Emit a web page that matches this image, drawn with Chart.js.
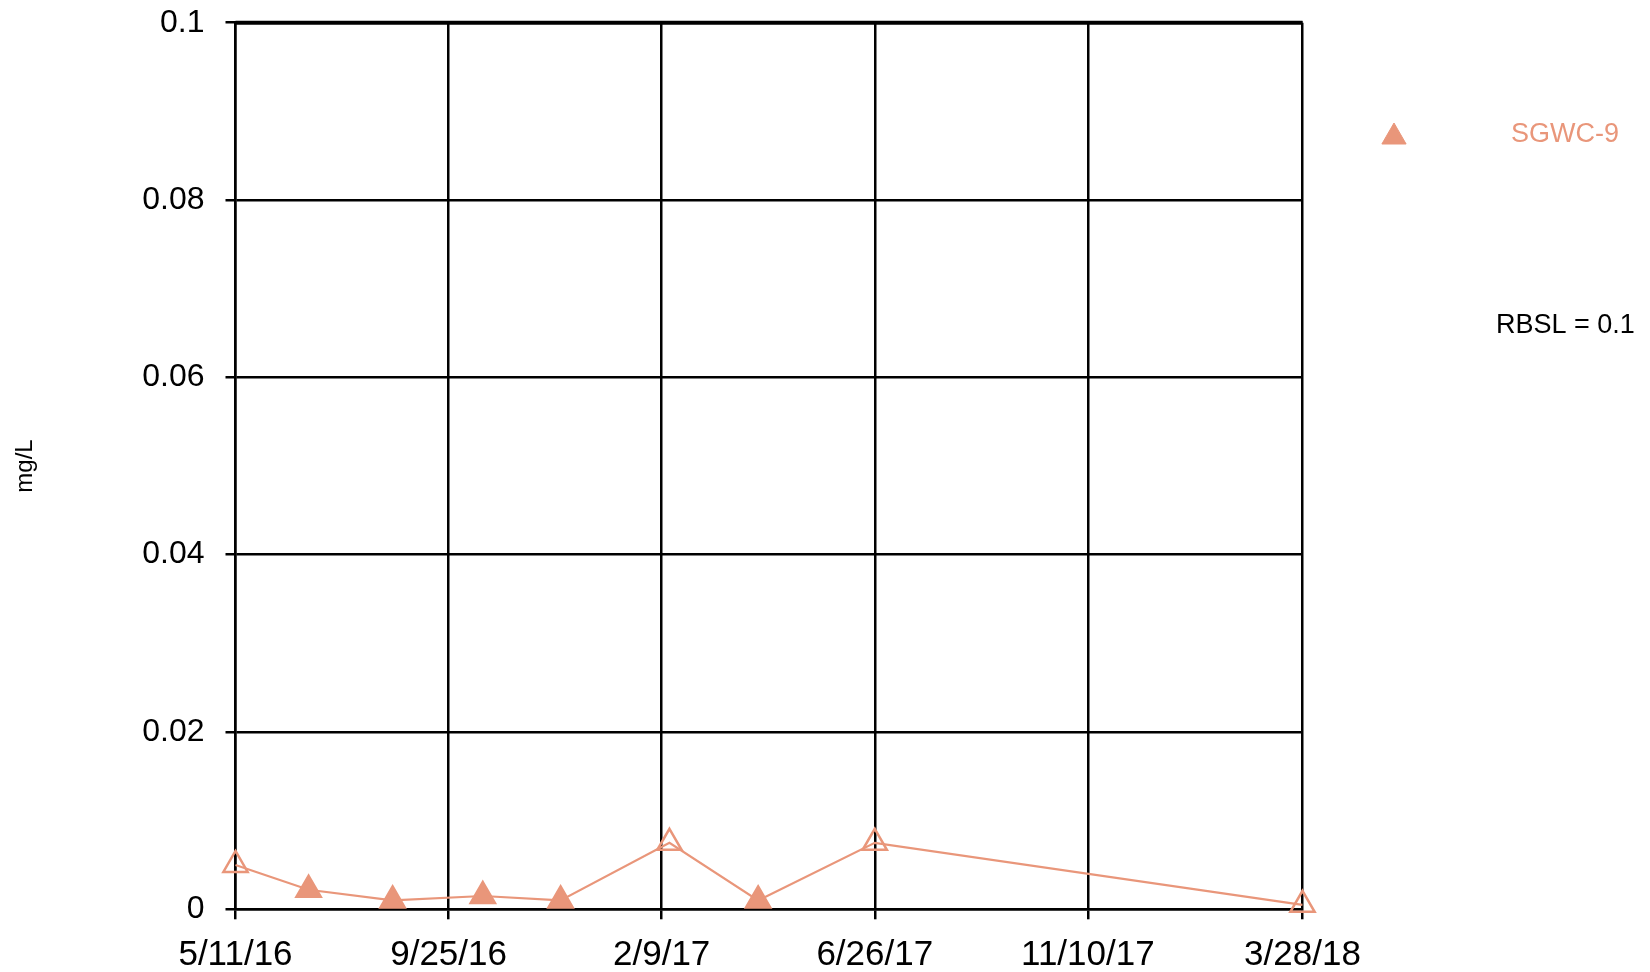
<!DOCTYPE html>
<html>
<head>
<meta charset="utf-8">
<script src="https://cdn.jsdelivr.net/npm/chart.js@4"></script>
<style>
  html, body { margin: 0; padding: 0; background: #fff; }
  canvas { display: block; }
</style>
</head>
<body>
<canvas id="myChart" width="1650" height="972"></canvas>
<script>
(function() {
    'use strict';

    // sample dates, values and which samples were non-detects (hollow markers)
    const sampleDates = ['5/11/16', '6/27/16', '8/20/16', '10/17/16', '12/6/16', '2/14/17', '4/12/17', '6/26/17', '3/28/18'];
    const sgwc9 = [0.005, 0.0022, 0.001, 0.0015, 0.001, 0.0075, 0.001, 0.0075, 0.0005];
    const nonDetect = [true, false, false, false, false, true, false, true, true];

    const xTickLabels = ['5/11/16', '9/25/16', '2/9/17', '6/26/17', '11/10/17', '3/28/18'];
    const yTickLabels = ['0', '0.02', '0.04', '0.06', '0.08', '0.1'];
    const rbsl = 0.1;

    const salmon = 'rgb(233,150,122)';
    const font = "'Liberation Sans', Arial, sans-serif";

    function toDay(s) {
        const p = s.split('/').map(Number);
        return (Date.UTC(2000 + p[2], p[0] - 1, p[1]) - Date.UTC(2016, 4, 11)) / 86400000;
    }

    const xTicks = xTickLabels.map(toDay);
    const xMin = xTicks[0];
    const xMax = xTicks[xTicks.length - 1];

    const points = sampleDates.map((d, i) => ({ x: toDay(d), y: sgwc9[i] }));

    const legendPlugin = {
        id: 'sideLegend',
        afterDraw(chart) {
            const ctx = chart.ctx;
            ctx.save();
            ctx.fillStyle = salmon;
            ctx.strokeStyle = salmon;
            ctx.lineWidth = 1;
            Chart.helpers.drawPoint(ctx, { pointStyle: 'triangle', radius: 14, rotation: 0, borderWidth: 1 }, 1394, 137);
            ctx.font = '27px ' + font;
            ctx.textAlign = 'left';
            ctx.textBaseline = 'middle';
            ctx.fillText('SGWC-9', 1511, 135);
            ctx.fillStyle = '#000';
            ctx.fillText('RBSL = ' + rbsl, 1496, 326);
            ctx.restore();
        }
    };

    const ctx = document.getElementById('myChart');

    new Chart(ctx, {
        type: 'line',
        data: {
            datasets: [{
                label: 'SGWC-9',
                data: points,
                borderColor: salmon,
                borderWidth: 2.2,
                pointStyle: 'triangle',
                pointRadius: 14,
                pointHoverRadius: 14,
                pointBorderWidth: 2.5,
                pointBorderColor: salmon,
                pointBackgroundColor: nonDetect.map(n => n ? 'rgba(0,0,0,0)' : salmon),
                tension: 0,
                clip: false
            }, {
                label: 'RBSL',
                data: [{ x: xMin, y: rbsl }, { x: xMax, y: rbsl }],
                borderColor: '#000',
                borderWidth: 4,
                pointRadius: 0,
                clip: false
            }]
        },
        plugins: [legendPlugin],
        options: {
            responsive: false,
            animation: false,
            devicePixelRatio: 1,
            layout: { padding: { left: 0, right: 347.5, top: 22.7, bottom: 0 } },
            plugins: {
                legend: { display: false },
                tooltip: { enabled: false }
            },
            scales: {
                x: {
                    type: 'linear',
                    min: xMin,
                    max: xMax,
                    afterFit: (scale) => { scale.height = 62.7; },
                    afterBuildTicks: (scale) => { scale.ticks = xTicks.map(v => ({ value: v })); },
                    ticks: {
                        padding: 15,
                        maxRotation: 0,
                        autoSkip: false,
                        color: '#000',
                        font: { family: font, size: 35 },
                        callback: (v, i) => xTickLabels[i]
                    },
                    grid: { color: '#000', lineWidth: 2.5, tickLength: 10, tickColor: '#000', tickWidth: 2.5 },
                    border: { color: '#000', width: 2.5 }
                },
                y: {
                    min: 0,
                    max: 0.1,
                    afterFit: (scale) => {
                        scale.width = 235.5;
                        scale.paddingTop = 0;
                        scale.paddingBottom = 0;
                    },
                    ticks: {
                        stepSize: 0.02,
                        padding: 21,
                        color: '#000',
                        font: { family: font, size: 32 },
                        callback: (v, i) => yTickLabels[i]
                    },
                    title: {
                        display: true,
                        text: 'mg/L',
                        color: '#000',
                        font: { family: font, size: 24 },
                        padding: { top: 11, bottom: 0 }
                    },
                    grid: { color: '#000', lineWidth: 2.5, tickLength: 10, tickColor: '#000', tickWidth: 2.5 },
                    border: { color: '#000', width: 2.5 }
                }
            }
        }
    });

})();
</script>
</body>
</html>
